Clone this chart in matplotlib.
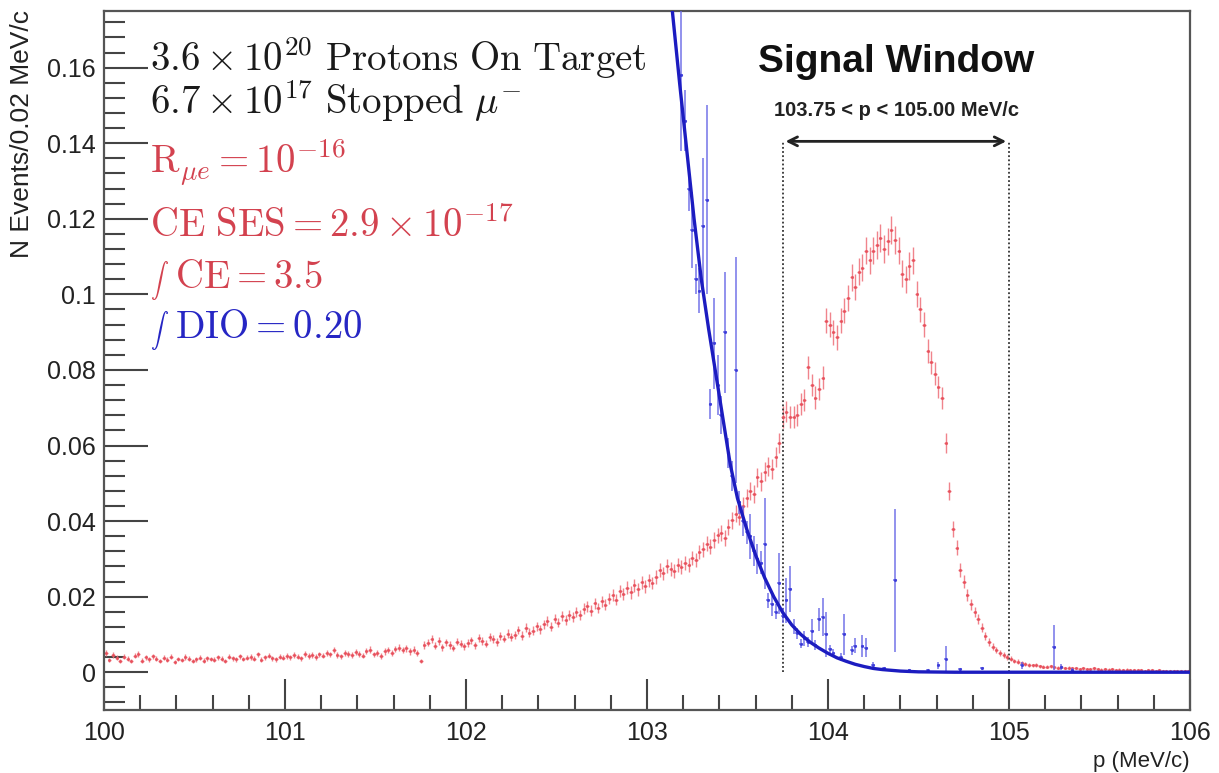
import matplotlib.pyplot as plt
import numpy as np

plt.rcParams['mathtext.fontset'] = 'cm'
plt.rcParams['font.family'] = ['Liberation Sans', 'DejaVu Sans']

# CE (conversion electron) histogram, 0.02 MeV/c bins from 100 to 106
bin_width = 0.02
ce_counts = [
    0.0050, 0.0032, 0.0045, 0.0038, 0.0030, 0.0041, 0.0036, 0.0029, 0.0044, 0.0048,
    0.0031, 0.0039, 0.0034, 0.0042, 0.0036, 0.0030, 0.0038, 0.0033, 0.0041, 0.0027,
    0.0035, 0.0032, 0.0040, 0.0036, 0.0029, 0.0034, 0.0038, 0.0031, 0.0037, 0.0035,
    0.0033, 0.0039, 0.0036, 0.0030, 0.0041, 0.0037, 0.0034, 0.0042, 0.0035, 0.0038,
    0.0040, 0.0036, 0.0047, 0.0033, 0.0039, 0.0044, 0.0037, 0.0034, 0.0041, 0.0038,
    0.0043, 0.0039, 0.0046, 0.0041, 0.0037, 0.0048, 0.0043, 0.0045, 0.0040, 0.0047,
    0.0044, 0.0050, 0.0047, 0.0058, 0.0045, 0.0042, 0.0051, 0.0049, 0.0046, 0.0053,
    0.0048, 0.0044, 0.0056, 0.0060, 0.0047, 0.0051, 0.0043, 0.0055, 0.0058, 0.0052,
    0.0061, 0.0065, 0.0058, 0.0063, 0.0055, 0.0060, 0.0050, 0.0030, 0.0072, 0.0078,
    0.0088, 0.0070, 0.0083, 0.0066, 0.0079, 0.0072, 0.0064, 0.0081, 0.0075, 0.0069,
    0.0077, 0.0084, 0.0071, 0.0090, 0.0082, 0.0076, 0.0093, 0.0087, 0.0080, 0.0095,
    0.0089, 0.0102, 0.0094, 0.0099, 0.0112, 0.0097, 0.0118, 0.0105, 0.0110, 0.0121,
    0.0114, 0.0127, 0.0135, 0.0120, 0.0142, 0.0131, 0.0148, 0.0139, 0.0152, 0.0145,
    0.0160, 0.0151, 0.0168, 0.0175, 0.0163, 0.0182, 0.0170, 0.0188, 0.0178, 0.0195,
    0.0205, 0.0192, 0.0214, 0.0207, 0.0224, 0.0211, 0.0230, 0.0219, 0.0238, 0.0227,
    0.0243, 0.0236, 0.0252, 0.0270, 0.0262, 0.0281, 0.0274, 0.0268, 0.0285, 0.0279,
    0.0290, 0.0284, 0.0302, 0.0296, 0.0318, 0.0325, 0.0340, 0.0332, 0.0350, 0.0362,
    0.0368, 0.0355, 0.0384, 0.0402, 0.0420, 0.0412, 0.0440, 0.0462, 0.0480, 0.0472,
    0.0516, 0.0505, 0.0530, 0.0545, 0.0538, 0.0570, 0.0606, 0.0675, 0.0690, 0.0675,
    0.0675, 0.0680, 0.0710, 0.0720, 0.0807, 0.0760, 0.0727, 0.0750, 0.0780, 0.0930,
    0.0920, 0.0900, 0.0886, 0.0930, 0.0957, 0.0990, 0.1045, 0.1020, 0.1060, 0.1070,
    0.1116, 0.1090, 0.1116, 0.1130, 0.1150, 0.1120, 0.1140, 0.1170, 0.1145, 0.1116,
    0.1055, 0.1040, 0.1075, 0.1090, 0.1000, 0.0960, 0.0920, 0.0850, 0.0820, 0.0790,
    0.0755, 0.0725, 0.0606, 0.0480, 0.0380, 0.0330, 0.0270, 0.0240, 0.0205, 0.0180,
    0.0160, 0.0140, 0.0118, 0.0095, 0.0080, 0.0068, 0.0058, 0.0052, 0.0046, 0.0040,
    0.0036, 0.0030, 0.0028, 0.0024, 0.0022, 0.0020, 0.0018, 0.0019, 0.0016, 0.0015,
    0.0014, 0.0016, 0.0013, 0.0012, 0.0014, 0.0011, 0.0012, 0.0010, 0.0011, 0.0009,
    0.0010, 0.0009, 0.0008, 0.0010, 0.0008, 0.0007, 0.0009, 0.0007, 0.0008, 0.0006,
    0.0007, 0.0006, 0.0007, 0.0005, 0.0006, 0.0005, 0.0006, 0.0004, 0.0005, 0.0005,
    0.0004, 0.0005, 0.0004, 0.0003, 0.0004, 0.0003, 0.0004, 0.0003, 0.0003, 0.0003,
]
ce_weight = 0.00012  # per-event weight, sets the statistical error bars

# DIO simulated points (centre, value, error)
dio_p = [103.19, 103.21, 103.23, 103.25, 103.27, 103.29, 103.31, 103.33, 103.35, 103.37,
         103.39, 103.41, 103.43, 103.45, 103.47, 103.49, 103.51, 103.53, 103.55, 103.57,
         103.59, 103.61, 103.63, 103.65, 103.67, 103.69, 103.71, 103.73, 103.75, 103.77,
         103.79, 103.81, 103.83, 103.85, 103.87, 103.89, 103.91, 103.93, 103.95, 103.97,
         103.99, 104.01, 104.03, 104.07, 104.09, 104.13, 104.15, 104.19, 104.21, 104.25,
         104.31, 104.37, 104.45, 104.55, 104.61, 104.65, 104.73, 104.85, 105.07, 105.25,
         105.29, 105.35]
dio_val = [0.158, 0.146, 0.128, 0.117, 0.104, 0.101, 0.118, 0.125, 0.071, 0.087,
           0.076, 0.068, 0.090, 0.058, 0.052, 0.080, 0.045, 0.040, 0.037, 0.036,
           0.032, 0.030, 0.029, 0.034, 0.019, 0.018, 0.016, 0.0235, 0.015, 0.019,
           0.022, 0.012, 0.0103, 0.0076, 0.0090, 0.0080, 0.0110, 0.0072, 0.0140, 0.0146,
           0.0100, 0.0062, 0.0052, 0.0041, 0.0100, 0.0058, 0.0070, 0.0069, 0.0065, 0.0020,
           0.0010, 0.0243, 0.0006, 0.0005, 0.0018, 0.0035, 0.0008, 0.0010, 0.0018, 0.0066,
           0.0015, 0.0006]
dio_err = [0.020, 0.008, 0.006, 0.010, 0.004, 0.006, 0.018, 0.025, 0.004, 0.012,
           0.008, 0.005, 0.016, 0.004, 0.004, 0.030, 0.003, 0.004, 0.003, 0.006,
           0.004, 0.004, 0.003, 0.012, 0.002, 0.003, 0.002, 0.008, 0.002, 0.006,
           0.006, 0.002, 0.0015, 0.0012, 0.002, 0.0012, 0.003, 0.0012, 0.003, 0.005,
           0.006, 0.001, 0.001, 0.001, 0.0055, 0.0012, 0.002, 0.003, 0.0025, 0.0008,
           0.0005, 0.019, 0.0003, 0.0003, 0.001, 0.0035, 0.0004, 0.0005, 0.001, 0.006,
           0.0008, 0.0004]

# DIO fit curve
fit_p = [103.14, 103.18, 103.22, 103.26, 103.30, 103.34, 103.38, 103.42, 103.46, 103.50,
         103.55, 103.60, 103.65, 103.70, 103.75, 103.80, 103.85, 103.90, 103.95, 104.00,
         104.05, 104.10, 104.15, 104.20, 104.25, 104.30, 104.40, 104.50, 104.70, 106.00]
fit_val = [0.175, 0.156, 0.138, 0.120, 0.104, 0.091, 0.079, 0.067, 0.055, 0.046,
           0.038, 0.031, 0.025, 0.020, 0.0158, 0.0125, 0.0100, 0.0080, 0.0064, 0.0050,
           0.0038, 0.0029, 0.0021, 0.0015, 0.0010, 0.0007, 0.0003, 0.0001, 0.0, 0.0]

window_lo, window_hi = 103.75, 105.00

ce_counts = np.array(ce_counts)
ce_centers = 100 + bin_width * (np.arange(len(ce_counts)) + 0.5)
ce_err = np.sqrt(ce_counts * ce_weight)

W, H = 1219, 773
fig = plt.figure(figsize=(W / 100, H / 100), dpi=100)
ax = fig.add_axes([104 / W, 1 - 710 / H, 1086 / W, 699 / H])

ax.errorbar(ce_centers, ce_counts, yerr=ce_err, xerr=bin_width / 2, fmt='.',
            ms=2.5, color='#e8505c', ecolor='#ee6f78', elinewidth=1.0, alpha=0.85, zorder=2)
ax.errorbar(dio_p, dio_val, yerr=dio_err, xerr=bin_width / 2, fmt='.',
            ms=2.5, color='#3a3ad8', ecolor='#6868e6', elinewidth=1.2, alpha=0.85, zorder=3)
ax.plot(fit_p, fit_val, color='#1c1cc0', lw=2.4, zorder=4)

# signal window
ax.vlines([window_lo, window_hi], 0, 0.1405, colors='#333333', linestyles=(0, (1, 1.3)), lw=1.3)
ax.annotate('', xy=(window_lo, 0.1405), xytext=(window_hi, 0.1405),
            arrowprops=dict(arrowstyle='<->', lw=2, color='#222222', mutation_scale=16))
fig.text(896 / W, 1 - 62 / H, 'Signal Window', ha='center', va='center',
         fontsize=28, fontweight='bold', color='#111111')
fig.text(896 / W, 1 - 110 / H, '103.75 < p < 105.00 MeV/c', ha='center',
         va='center', fontsize=14.5, fontweight='bold', color='#222222')

# info box
black, red, blue = '#1a1a1a', '#d3424f', '#2626c4'
info = [
    (r'$3.6 \times 10^{20}\ \mathrm{Protons\ On\ Target}$', black, 71),
    (r'$6.7 \times 10^{17}\ \mathrm{Stopped}\ \mu^{-}$', black, 114),
    (r'$\mathrm{R}_{\mu e} = 10^{-16}$', red, 173),
    (r'$\mathrm{CE\ SES} = 2.9 \times 10^{-17}$', red, 237),
]
for txt, col, base in info:
    fig.text(150 / W, 1 - base / H, txt, color=col, fontsize=28, ha='left', va='baseline')

integrals = [
    (r'$\mathrm{CE} = 3.5$', red, 288),
    (r'$\mathrm{DIO} = 0.20$', blue, 338),
]
for txt, col, base in integrals:
    fig.text(150 / W, 1 - (base - 1) / H, r'$\int$', color=col, fontsize=13, ha='left', va='baseline')
    fig.text(175 / W, 1 - base / H, txt, color=col, fontsize=28, ha='left', va='baseline')

ax.set_xlim(100, 106)
ax.set_ylim(-0.01, 0.175)
ax.set_xticks(np.arange(100, 106.01, 1))
ax.set_xticks(np.arange(100, 106.01, 0.2), minor=True)
ax.set_yticks(np.arange(0, 0.17, 0.02))
ax.set_yticks(np.arange(-0.008, 0.175, 0.004), minor=True)
ax.set_yticklabels(['0', '0.02', '0.04', '0.06', '0.08', '0.1', '0.12', '0.14', '0.16'])
ax.tick_params(axis='both', which='both', direction='in', top=False, right=False,
               labelsize=18, colors='#444444', labelcolor='#222222')
ax.tick_params(axis='y', which='major', length=32, width=1.5, pad=6)
ax.tick_params(axis='y', which='minor', length=15, width=1.5)
ax.tick_params(axis='x', which='major', length=22, width=1.5, pad=8)
ax.tick_params(axis='x', which='minor', length=11, width=1.5)
for s in ax.spines.values():
    s.set_color('#555555')
    s.set_linewidth(1.6)

fig.text(1190 / W, 1 - 762 / H, 'p (MeV/c)', ha='right', va='center', fontsize=16, color='#222222')
fig.text(22 / W, 1 - 10 / H, 'N Events/0.02 MeV/c', ha='center', va='top', rotation=90,
         fontsize=19, color='#222222')

fig.savefig('out.png', dpi=100)
